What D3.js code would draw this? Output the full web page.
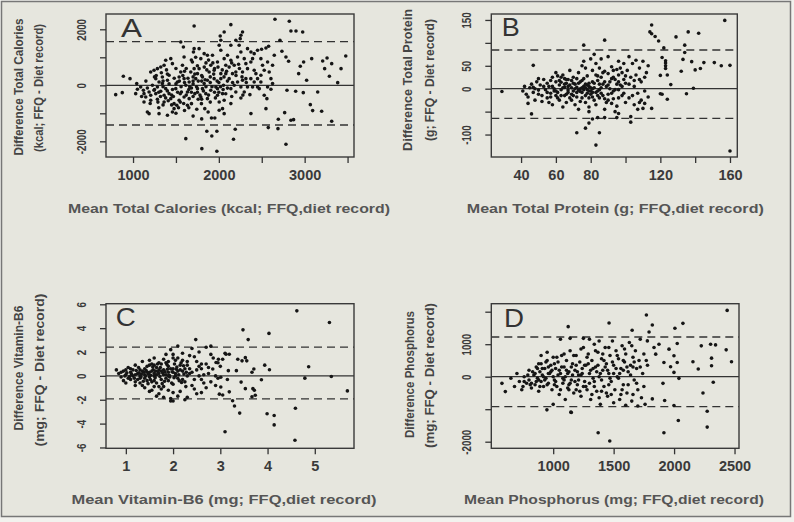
<!DOCTYPE html>
<html>
<head>
<meta charset="utf-8">
<script src="https://cdnjs.cloudflare.com/ajax/libs/d3/7.8.5/d3.min.js"></script>
<style>
body { margin: 0; background: #f2f2ee; }
svg { display: block; }
text { font-family: "Liberation Sans", Arial, sans-serif; }
</style>
</head>
<body>
<svg width="794" height="522"></svg>
<script>
// [mean, difference] pairs
var caloriesPoints = [
  [798,-333],[887,321],[965,238],[875,-262],[1043,60],[1712,2118],[2140,2166],[2654,2356],[2821,2285],[2840,1940],
  [2899,1940],[2977,1904],[2016,1761],[2276,1904],[2249,1666],[2712,1607],[1615,-1904],[1802,-2261],[1977,-2356],[1918,-1809],
  [1860,-1642],[1977,-1642],[2171,-1928],[2191,-1571],[2782,-2106],[2576,-1511],[2689,-1547],[2693,-1214],[2840,-1250],[2871,-1226],
  [2767,-976],[3066,-690],[3093,-904],[3198,-928],[3315,-1285],[2988,833],[3082,952],[3210,869],[3261,976],[3233,595],
  [3315,774],[3424,595],[3479,1047],[3288,321],[3385,95],[3023,178],[3152,-238],[2895,-214],[2984,-262],[2794,-178],
  [2949,678],[2930,416],[2813,857],[2782,1011],[2735,1214],[2646,1071],[2626,714],[2580,1392],[2549,1333],[2498,1285],
  [2451,1250],[2374,1190],[2374,-1011],[2549,-833],[2529,-357],[2560,-476],[2471,-119],[2362,-333],[2296,-238],[2257,-452],
  [2140,-654],
  [1031,-298],[1051,-143],[1089,-60],[1121,-179],[1128,-298],[1148,-417],[1167,-95],[1187,-238],[1206,-357],[1226,0],
  [1245,-179],[1265,-298],[1284,-60],[1303,119],[1323,-214],[1342,60],[1362,-357],[1381,-119],[1401,179],[1420,-298],
  [1206,476],[1245,536],[1284,595],[1323,655],[1362,714],[1381,893],[1440,952],[1459,774],[1420,357],[1342,298],
  [1265,238],[1167,-952],[1187,-1012],[1303,-1012],[1401,-1071],[1459,-952],[1478,-833],[1128,-595],[1206,-536],[1284,-500],
  [1362,-595],[1440,-476],[1478,-655],[1498,-119],[1517,119],[1537,298],[1556,476],[1576,714],[1595,1012],[1587,1369],
  [1556,1547],
  [1595,238],[1615,0],[1634,-238],[1654,-476],[1673,476],[1692,833],[1704,1190],[1712,1309],[1731,238],[1751,-119],
  [1770,595],[1790,952],[1809,298],[1829,60],[1848,-298],[1867,-476],[1887,476],[1906,714],[1926,1071],[1945,238],
  [1965,-60],[1984,-357],[2004,-595],[2023,417],[1654,119],[1681,-95],[1720,-298],[1759,-500],[1797,-655],[1836,-833],
  [1875,-952],[1914,-1166],[1953,-1166],[2004,-893],[2043,-833],[2062,-1012],[1634,-714],[1681,-655],[1743,-857],[1595,-417],
  [1564,-238],[1537,-536],[1510,-714],[1829,1131],[1867,1071],[1770,1309],[2004,1428],[2023,1250],[2062,952],[2081,714],
  [1984,833],[1945,536],[1867,179],[1809,-119],[1712,595],[1751,417],[1790,-417],[1906,-179],[1984,-119],[2043,-298],
  [2062,-536],[2054,0],[2023,238],
  [2101,1071],[2140,893],[2179,714],[2218,1012],[2237,1428],[2257,1190],[2296,952],[2315,774],[2334,595],[2373,833],
  [2393,952],[2412,536],[2432,417],[2451,238],[2490,357],[2509,714],[2529,536],[2568,833],[2587,476],[2607,238],
  [2626,60],[2490,119],[2412,119],[2373,238],[2315,238],[2276,179],[2218,119],[2179,0],[2120,238],[2140,-119],
  [2198,-238],[2257,-60],[2334,-60],[2393,-60],[2451,-60],[2568,-60],[2607,-143],[2081,417],[2159,417],[2198,476],
  [2276,476],[2334,1309],[2412,1131],[2490,952],[2140,1428],[2198,1607],[2257,1785],[2023,1607],[2062,1904],
  [1250,-150],[1300,-250],[1350,-50],[1400,-200],[1450,-350],[1500,50],[1550,-300],[1600,100],[1650,-150],[1700,50],
  [1750,-250],[1800,150],[1850,-50],[1900,300],[1950,-250],[2000,100],[2050,-150],[1400,400],[1500,600],[1600,500],
  [1700,300],[1800,-500],[1900,-600],[1550,-600],[1450,-700],[1650,-800],[1750,700],[1850,800],[1950,600],[2100,150],
  [2150,-400],[1700,-400],[1350,150],[1250,300],[1150,150],[1100,-400],[1200,-650],[1300,-800],[1600,-900],[1500,-1000],
  [1700,-1100],[1800,-1200],
  [1320,-400],[1380,-450],[1420,50],[1460,-150],[1480,250],[1520,-250],[1540,150],[1560,-50],[1580,350],[1620,-350],
  [1640,250],[1660,-50],[1680,-250],[1700,150],[1720,400],[1740,-50],[1760,150],[1780,-350],[1800,350],[1820,-200],
  [1840,200],[1860,550],[1880,-350],[1900,100],[1920,-50],[1940,400],[1960,-450],[1980,150],[2000,-250],[2020,-50],
  [2040,550],[2060,300],[2080,-300],[2100,-100],[2120,650],[2160,100],[2200,350],[2240,600],[2280,-350],[2320,100],
  [1290,-600],[1350,-700],[1410,-550],[1470,-400],[1530,-800],[1590,-650],[1620,600],[1680,900],[1730,1000],[1830,650],
  [1880,900],[1930,800],[1990,650],[2090,500],[2150,800],[2230,750],[2270,300],[1270,350],[1330,450],[1390,550]
];

var proteinPoints = [
  [29,-6],[157,149],[160,-136],[115,139],[114,124],[115,120],[117,114],[119,104],[122,89],[129,113],
  [136,124],[142,121],[134,95],[134,79],[138,59],[133,64],[140,41],[143,44],[145,57],[151,57],
  [155,50],[160,51],[132,38],[139,1],[135,-11],[126,9],[124,30],[123,50],[123,61],[121,68],
  [120,29],[120,-11],[121,-12],[124,-23],[115,-43],[113,-18],[110,-43],[111,-32],[107,-45],[108,-30],
  [103,-73],[103,-61],[76,95],[88,106],[47,51],[46,-55],[72,-96],[77,-86],[79,-75],[85,-96],
  [83,-123],[81,-66],[84,-63],[88,-63],[95,-63],[96,-54],[79,-50],[123,56],[123,44],
  [41,-5],[42,5],[43,-12],[44,-18],[45,2],[46,10],[47,-8],[48,-25],[49,15],[50,-3],
  [51,8],[52,-15],[53,20],[54,-2],[55,12],[44,-32],[48,0],[52,-28],[55,-20],[50,22],
  [56,5],[57,-10],[58,25],[59,-5],[60,15],[61,-20],[62,8],[63,-2],[64,30],[65,-15],
  [66,12],[67,-8],[68,40],[69,18],[70,-5],[56,-30],[58,-35],[60,35],[62,-25],[64,-40],
  [66,-30],[68,-20],[70,25],[57,18],[59,0],[61,28],[63,14],[65,3],[67,20],[69,-12],
  [61,-8],[63,-15],[65,22],[67,5],[69,2],
  [71,10],[72,-18],[73,35],[74,0],[75,-8],[76,22],[77,45],[78,-2],[79,5],[80,-12],
  [81,15],[82,-25],[83,30],[84,-5],[85,10],[71,-35],[73,-45],[75,50],[77,-30],[79,-40],
  [81,40],[83,55],[85,-20],[72,3],[74,-6],[76,-2],[78,8],[80,-5],[82,2],[84,18],
  [86,-10],[73,12],[75,18],[77,-15],[79,-20],[81,-8],[83,-35],[85,45],[76,60],[80,65],
  [82,75],
  [86,25],[87,-15],[88,38],[89,5],[90,-25],[91,15],[92,48],[93,-5],[94,20],[95,-38],
  [96,30],[97,8],[98,-15],[99,55],[100,12],[86,65],[88,-45],[90,70],[92,-10],[94,-50],
  [96,60],[98,35],[100,-30],[87,10],[89,-30],[91,0],[93,25],[95,10],[97,45],[99,-10],
  [90,33],[93,40],[96,-2],
  [101,40],[102,-20],[103,25],[104,55],[105,5],[106,30],[107,-10],[108,45],[109,15],[110,60],
  [111,-5],[112,35],[113,50],[102,70],[105,-35],[108,20],[111,25],[106,62],[104,-15],[109,-25],
  [58,5],[60,-5],[62,18],[64,2],[66,-12],[68,8],[70,12],[72,-8],[74,15],[76,5],
  [78,-10],[80,2],[82,12],[84,-15],[86,2],[88,15],[90,8],[92,22],[94,-2],[96,15],
  [98,5],[100,28],[60,-15],[63,25],[66,20],[69,-25],[72,22],[75,-20],[78,28],[81,-18],
  [84,28],[87,35],[90,-12],[93,-22],[96,-20],[99,20],[102,10],[105,18],[74,-28],[77,10],
  [79,-5],[71,0],[65,10],[67,-3],[73,-3],[77,2],[79,12],[81,0],[83,-8],[85,-2],
  [75,2],[70,-15],[57,-18],[53,5],[50,-12],[47,3],[55,-8],[92,-32],[88,-22],[95,42]
];

var vitaminB6Points = [
  [4.62,5.45],[5.31,4.47],[3.48,3.86],[3.59,3.04],[4.03,3.56],[2.48,3.04],[4.87,0.77],[4.79,-0.19],[5.35,-0.05],[5.69,-1.26],
  [4.59,-2.71],[3.99,-3.18],[4.14,-3.32],[4.14,-4.11],[3.41,-3.12],[3.30,-2.52],[3.26,-2.08],[3.10,-4.68],[4.58,-5.40],[3.87,-0.33],
  [3.94,0.90],[4.04,0.52],[3.69,-1.07],[3.67,-1.75],[3.74,-1.62],[3.72,-1.2],[3.53,-1.07],[3.44,-0.52],[3.56,1.26],[3.53,1.53],
  [3.71,0.58],[3.67,0.3],[3.46,1.26],[3.37,1.4],[3.34,0.44],[3.17,0.44],[3.19,1.81],[3.12,1.81],[3.05,1.4],[2.96,1.4],
  [3.19,-1.34],[2.98,-1.53],[3.01,-0.93],[2.8,2.49],[2.91,1.12],[2.84,0.58],[3.01,-0.11],
  [0.85,0.2],[0.9,-0.1],[0.95,0.4],[1.0,-0.6],[1.0,0.1],[1.05,0.7],[1.1,-0.3],[1.1,0.3],[1.15,0.0],[1.2,0.9],
  [1.2,-0.5],[1.25,0.2],[1.3,-0.2],[1.3,0.5],[1.35,1.2],[1.35,-0.8],[1.4,0.1],[1.4,0.6],[1.45,-0.4],[1.45,0.3],
  [1.5,0.9],[1.5,-0.1],[1.55,-1.2],[1.55,0.4],[1.6,0.0],[1.6,1.5],[1.65,-0.6],[1.65,0.7],[1.7,0.2],[1.7,-1.5],
  [1.75,1.0],[1.75,-0.3],[1.8,0.5],[1.8,-0.9],[1.85,1.8],[1.85,0.1],[1.9,-0.4],[1.9,0.8],[1.95,2.2],[1.95,-1.9],
  [2.0,0.3],[2.0,-0.7],[2.05,1.3],[2.05,0.0],[2.1,2.5],[2.1,-0.2],[2.15,0.9],[2.15,-1.3],[2.2,0.4],[2.2,1.9],
  [2.25,-0.5],[2.25,0.6],[2.3,1.2],[2.3,-1.8],[2.35,0.2],[2.4,2.3],[2.4,-0.8],[2.45,1.6],[2.5,0.5],[2.5,-1.5],
  [2.55,2.0],[2.6,-0.3],[2.6,1.0],[2.65,0.1],[2.7,2.4],[2.7,-1.0],[2.75,0.7],[2.8,-0.5],[2.85,1.5],[2.9,0.0],
  [2.95,-0.2],[3.0,0.8],
  [1.2,0.1],[1.3,0.0],[1.4,-0.2],[1.5,0.3],[1.6,0.2],[1.7,0.5],[1.8,0.1],[1.9,0.3],[2.0,0.6],[2.1,0.4],
  [1.25,-0.3],[1.35,0.4],[1.45,0.8],[1.55,-0.5],[1.65,0.1],[1.75,0.4],[1.85,-0.2],[1.95,0.6],[2.05,0.2],[2.15,0.5],
  [1.15,0.5],[1.05,-0.2],[0.95,-0.4],[0.8,0.5],[2.3,0.0],[2.2,-0.3],[2.4,0.3],[2.5,1.2],[2.6,0.6],[1.9,1.2],
  [2.0,1.5],[1.8,1.4],[1.7,1.1],[2.2,1.3],[2.3,0.9],[1.6,-0.9],[1.75,-1.1],[1.9,-1.2],[2.0,-1.4],[2.1,-1.7],
  [1.65,-1.7],[1.8,-1.8],[2.45,-1.1],[2.6,-1.4],[2.25,-2.0],[2.0,-2.1],[1.95,-2.1],[1.5,-1.3],[1.4,-1.0],[1.3,-0.6],
  [1.1,0.6],[1.0,0.5],[1.2,-0.8],[0.9,0.3],[1.5,1.3],[1.6,0.9],[2.35,1.7],[2.55,0.0],[2.7,1.0],[2.8,1.8],
  [2.9,-0.8],[2.95,1.1],[3.05,-1.6],[3.1,1.9],[3.15,-0.3],
  [1.12,0.15],[1.18,-0.2],[1.22,0.45],[1.28,0.25],[1.32,-0.1],[1.38,0.3],[1.42,0.0],[1.48,0.15],[1.52,-0.3],[1.58,0.5],
  [1.62,-0.15],[1.68,0.35],[1.72,-0.05],[1.78,0.25],[1.82,-0.45],[1.88,0.55],[1.92,0.05],[1.98,0.35],[2.02,-0.15],[2.08,0.75],
  [2.12,0.1],[2.18,-0.55],[2.22,0.85],[2.28,0.3],[1.27,0.7],[1.37,-0.45],[1.47,-0.65],[1.57,0.75],[1.67,1.0],[1.77,-0.65],
  [1.87,0.95],[1.97,-0.6],[2.07,0.55],[2.17,1.1],[2.27,-0.9],[1.33,0.15],[1.43,0.45],[1.53,0.05],[1.63,0.4],[1.73,0.7],
  [1.83,0.35],[1.93,-0.1],[2.03,1.0],[2.13,-0.4],[2.23,0.15],[1.08,-0.05],[1.02,0.25],[0.98,0.0],[1.6,-0.4],[1.9,0.0],
  [2.35,0.6],[2.45,-0.3],[2.55,0.8],[2.65,-0.6],[2.75,0.2],[1.55,1.0],[1.85,1.1],[2.0,1.8],[2.1,1.5],[1.7,-0.9]
];

var phosphorusPoints = [
  [576,-204],[604,-459],[2439,2040],[1771,1897],[1462,1652],[1124,1540],[1653,1428],[1820,1591],[2073,1642],[2007,1489],
  [1793,1377],[2225,949],[2302,1000],[2343,979],[2431,826],[2475,459],[2310,571],[2310,337],[2156,459],[2200,235],
  [2324,-173],[2239,-500],[2274,-1061],[2274,-1550],[2035,-1346],[1916,-1724],[1372,-1724],[1468,-1979],[1146,-1091],[948,-1020],
  [2040,-51],[1999,-887],[1922,-734],[1820,-683],[1908,-204],[1999,133],[2026,439],[1999,643],[2026,1020],[1958,847],
  [1971,306],[1916,439],[1848,694],[1875,1000],[1834,898],[1779,1102],
  [650,-50],[680,-300],[700,100],[720,-150],[740,-400],[760,0],[780,-200],[800,200],[800,-100],[820,-350],
  [840,50],[850,-250],[860,300],[870,-50],[880,-450],[890,150],[900,-150],[900,400],[910,50],[920,-300],
  [930,250],[940,-50],[950,500],[960,-200],[970,100],[980,350],[990,-400],[1000,0],[1000,600],[1010,-100],
  [1020,250],[1030,-300],[1040,450],[1050,-550],[1060,100],[1070,650],[1080,-200],[1090,300],[1100,0],[1100,-700],
  [1110,500],[1120,-350],[1130,150],[1140,800],[1150,-100],[1160,400],[1170,-500],[1180,200],[1190,650],[1200,-250],
  [1210,50],[1220,450],[1230,-600],[1240,250],[1250,900],[1260,-150],[1270,350],[1280,-400],[1290,700],[1300,100],
  [1310,-700],[1320,500],[1330,-50],[1340,1000],[1350,300],[1360,-450],[1370,750],[1380,0],[1390,-850],[1400,550],
  [1410,200],[1420,-300],[1430,900],[1440,400],[1450,-600],[1460,100],[1470,650],[1480,-150],[1490,1100],[1500,350],
  [1510,-400],[1520,800],[1530,0],[1540,550],[1550,-700],[1560,250],[1570,950],[1580,-250],[1590,450],[1600,700],
  [1610,-500],[1620,150],[1630,1050],[1640,350],[1650,-750],[1660,600],[1670,-100],[1680,800],[1690,250],[1700,-400],
  [1710,500],[1720,1150],[1730,-650],[1740,100],[1750,700],[1760,-850],[1780,350],
  [850,100],[880,-100],[920,0],[950,-250],[980,150],[1020,-150],[1050,200],[1080,-50],[1120,100],[1150,300],
  [1180,-150],[1200,150],[1230,50],[1260,350],[1300,-200],[1330,250],[1360,150],[1400,-100],[1430,300],[1460,-250],
  [1500,100],[1540,-50],[1580,200],[1620,-250],[1660,300],[750,-300],[820,-200],[870,250],[960,300],[1010,400],
  [1060,-400],[1130,-250],[1190,-400],[1250,-300],[1320,-550],[1380,-650],[1440,-500],[1500,-800],[1560,-550],[1600,-880],
  [1700,-900],[1060,1150],[1140,1180],[1250,1180],[1300,1150],[1380,1100],[900,650],[950,750],[1000,-850],[1150,-1100],
  [760,-150],[790,50],[810,-250],[830,150],[860,-150],[890,-300],[910,250],[930,-100],[960,100],[990,200],
  [1010,-250],[1040,50],[1070,300],[1090,-100],[1110,200],[1140,-200],[1160,50],[1190,350],[1210,-100],[1240,100],
  [1270,-300],[1290,400],[1310,200],[1340,-150],[1370,350],[1390,100],[1420,500],[1450,200],[1470,-50],[1490,450],
  [1520,250],[1550,100],[1580,500],[1610,300],[1640,50],[1670,450],[1690,-200],[1720,300],[1750,-300],[1770,500],
  [880,400],[940,450],[1030,600],[1090,700],[1170,650],[1230,850],[1280,600],[1350,800],[1410,700],[1460,900],
  [1530,650],[1590,850],[1650,950],[1130,-400],[1220,-450],[1340,-300],[1400,-450],[1480,-550],[1570,-400],[1660,-550]
];

// mean +/- 1.96 SD limits (upper, lower)
var caloriesLimits = [1557, -1418];
var proteinLimits = [84.5, -64.6];
var vitaminB6Limits = [2.41, -1.92];
var phosphorusLimits = [1222, -923];

var caloriesXTicks = [1000, 1500, 2000, 2500, 3000, 3500];
var caloriesXLabels = [1000, 2000, 3000];
var caloriesYTicks = [-2000, -1000, 0, 1000, 2000];
var caloriesYLabels = [-2000, 0, 2000];

var proteinXTicks = [40, 60, 80, 100, 120, 140, 160];
var proteinXLabels = [40, 60, 80, 120, 160];
var proteinYTicks = [-100, -50, 0, 50, 100, 150];
var proteinYLabels = [-100, 0, 50, 150];

var vitaminB6XTicks = [1, 2, 3, 4, 5];
var vitaminB6XLabels = [1, 2, 3, 4, 5];
var vitaminB6YTicks = [-6, -4, -2, 0, 2, 4, 6];
var vitaminB6YLabels = [-6, -4, -2, 0, 2, 4, 6];

var phosphorusXTicks = [1000, 1500, 2000, 2500];
var phosphorusXLabels = [1000, 1500, 2000, 2500];
var phosphorusYTicks = [-2000, -1000, 0, 1000, 2000];
var phosphorusYLabels = [-2000, 0, 1000];

var svg = d3.select("svg");

svg.append("rect").attr("x", 1.5).attr("y", 1.5).attr("width", 789).attr("height", 515)
  .attr("fill", "#e6e6de").attr("stroke", "#777").attr("stroke-width", 1.5);

var panels = [
  {letter: "A", points: caloriesPoints, limits: caloriesLimits,
   xTicks: caloriesXTicks, xLabels: caloriesXLabels, yTicks: caloriesYTicks, yLabels: caloriesYLabels,
   xDomain: [685, 3575], yDomain: [-2560, 2546], box: [106, 354, 14, 157],
   xTitle: "Mean Total Calories (kcal; FFQ,diet record)", xTitleAt: [229, 213, 322],
   yTitle1: "Difference Total Calories", yTitle1At: [23, 87, 137],
   yTitle2: "(kcal; FFQ - Diet record)", yTitle2At: [43, 88, 128],
   letterAt: [121, 37, 21]},
  {letter: "B", points: proteinPoints, limits: proteinLimits,
   xTicks: proteinXTicks, xLabels: proteinXLabels, yTicks: proteinYTicks, yLabels: proteinYLabels,
   xDomain: [22.9, 164.2], yDomain: [-149, 163], box: [491.3, 737.3, 14, 157],
   xTitle: "Mean Total Protein (g; FFQ,diet record)", xTitleAt: [615.3, 213, 297],
   yTitle1: "Difference Total Protein", yTitle1At: [412, 80, 142],
   yTitle2: "(g; FFQ - Diet record)", yTitle2At: [434, 80, 122],
   letterAt: [501.7, 36, 18]},
  {letter: "C", points: vitaminB6Points, limits: vitaminB6Limits,
   xTicks: vitaminB6XTicks, xLabels: vitaminB6XLabels, yTicks: vitaminB6YTicks, yLabels: vitaminB6YLabels,
   xDomain: [0.58, 5.83], yDomain: [-6.07, 6.05], box: [106, 354, 303.7, 448.3],
   xTitle: "Mean Vitamin-B6 (mg; FFQ,diet record)", xTitleAt: [224, 504, 305],
   yTitle1: "Difference Vitamin-B6", yTitle1At: [23, 368, 125],
   yTitle2: "(mg; FFQ - Diet record)", yTitle2At: [44, 370, 153],
   letterAt: [115.7, 326, 20]},
  {letter: "D", points: phosphorusPoints, limits: phosphorusLimits,
   xTicks: phosphorusXTicks, xLabels: phosphorusXLabels, yTicks: phosphorusYTicks, yLabels: phosphorusYLabels,
   xDomain: [488, 2537], yDomain: [-2203, 2246], box: [491.3, 739, 303.7, 448.3],
   xTitle: "Mean Phosphorus (mg; FFQ,diet record)", xTitleAt: [614, 504, 300],
   yTitle1: "Difference Phosphorus", yTitle1At: [414, 374.5, 127],
   yTitle2: "(mg; FFQ - Diet record)", yTitle2At: [434, 375.5, 145],
   letterAt: [504, 327, 20]}
];

var draw_panel = function(p) {
  var left = p.box[0], right = p.box[1], top = p.box[2], bottom = p.box[3];
  var x = d3.scaleLinear().domain(p.xDomain).range([left, right]);
  var y = d3.scaleLinear().domain(p.yDomain).range([bottom, top]);
  var g = svg.append("g");

  // zero line and limits of agreement
  g.append("line").attr("x1", left).attr("x2", right).attr("y1", y(0)).attr("y2", y(0))
    .attr("stroke", "#333").attr("stroke-width", 1.3);
  g.selectAll(".limit").data(p.limits).enter().append("line")
    .attr("x1", left).attr("x2", right)
    .attr("y1", function(d) { return y(d); }).attr("y2", function(d) { return y(d); })
    .attr("stroke", "#333").attr("stroke-width", 1.3).attr("stroke-dasharray", "8,5");

  g.selectAll("circle").data(p.points).enter().append("circle")
    .attr("cx", function(d) { return x(d[0]); })
    .attr("cy", function(d) { return y(d[1]); })
    .attr("r", 1.8)
    .attr("fill", "#151515");

  g.append("rect").attr("x", left).attr("y", top).attr("width", right - left).attr("height", bottom - top)
    .attr("fill", "none").attr("stroke", "#3a3a3a").attr("stroke-width", 1.4);

  // x axis
  var xAxis = d3.axisBottom(x).tickValues(p.xTicks).tickSize(6)
    .tickFormat(function(d) { return p.xLabels.indexOf(d) >= 0 ? d : ""; });
  var xg = g.append("g").attr("transform", "translate(0," + bottom + ")").call(xAxis);
  xg.select(".domain").remove();
  xg.selectAll(".tick line").attr("stroke", "#333").attr("stroke-width", 1.3);
  xg.selectAll(".tick text").attr("y", 23).attr("dy", 0)
    .attr("fill", "#3a3a3a").attr("font-size", 14.5).attr("font-weight", "bold")
    .style("font-family", "'Liberation Sans', Arial, sans-serif");

  // y axis, labels run upwards
  var yAxis = d3.axisLeft(y).tickValues(p.yTicks).tickSize(6)
    .tickFormat(function(d) { return p.yLabels.indexOf(d) >= 0 ? String(d).replace("\u2212", "-") : ""; });
  var yg = g.append("g").attr("transform", "translate(" + left + ",0)").call(yAxis);
  yg.select(".domain").remove();
  yg.selectAll(".tick line").attr("stroke", "#333").attr("stroke-width", 1.3);
  yg.selectAll(".tick text")
    .attr("x", null).attr("dy", null)
    .attr("text-anchor", "middle")
    .attr("transform", "translate(-20,0) rotate(-90) scale(0.75,1)")
    .attr("fill", "#3a3a3a").attr("font-size", 13).attr("font-weight", "bold")
    .style("font-family", "'Liberation Sans', Arial, sans-serif");

  // titles
  g.append("text").text(p.xTitle)
    .attr("x", p.xTitleAt[0]).attr("y", p.xTitleAt[1])
    .attr("text-anchor", "middle").attr("textLength", p.xTitleAt[2]).attr("lengthAdjust", "spacingAndGlyphs")
    .attr("font-size", 13).attr("font-weight", "bold").attr("fill", "#555");

  [[p.yTitle1, p.yTitle1At], [p.yTitle2, p.yTitle2At]].forEach(function(t) {
    g.append("text").text(t[0])
      .attr("transform", "translate(" + t[1][0] + "," + t[1][1] + ") rotate(-90)")
      .attr("text-anchor", "middle").attr("textLength", t[1][2]).attr("lengthAdjust", "spacingAndGlyphs")
      .attr("font-size", 12.5).attr("font-weight", "bold").attr("fill", "#444");
  });

  g.append("text").text(p.letter)
    .attr("x", p.letterAt[0]).attr("y", p.letterAt[1])
    .attr("textLength", p.letterAt[2]).attr("lengthAdjust", "spacingAndGlyphs")
    .attr("font-size", 25).attr("fill", "#333");
};

panels.forEach(draw_panel);
</script>
</body>
</html>
